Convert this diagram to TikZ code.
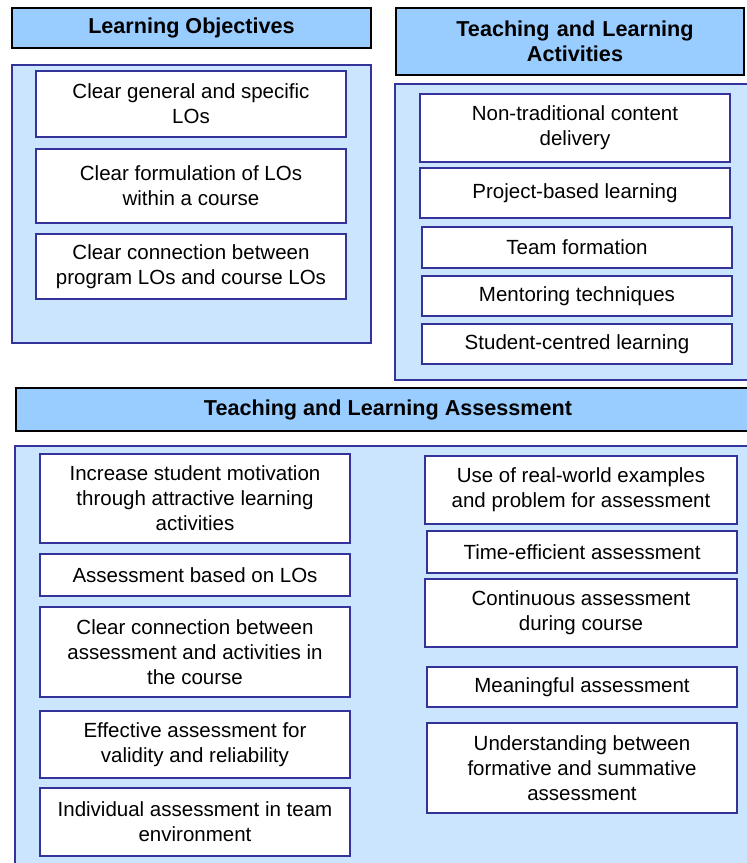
\documentclass[tikz,border=0pt]{standalone}
\usepackage{fontspec}
\setmainfont{Liberation Sans}
\definecolor{hdrfill}{HTML}{99CCFF}
\definecolor{panfill}{HTML}{CCE5FF}
\definecolor{bdr}{HTML}{333399}
\begin{document}
\begin{tikzpicture}[x=1pt,y=-1pt,
  every node/.style={inner sep=0pt, outer sep=0pt, align=center,
    font=\fontsize{20.5}{25}\selectfont},
  hdr/.style={draw=black, line width=1.8pt, fill=hdrfill,
    font=\fontsize{21.6}{25}\selectfont\bfseries},
  panel/.style={draw=bdr, line width=1.4pt, fill=panfill},
  ibox/.style={draw=bdr, line width=1.8pt, fill=white}]
\useasboundingbox (0,0) rectangle (747,863);
\clip (0,0) rectangle (747,863);
% Learning Objectives
\node[hdr, minimum width=359pt, minimum height=40pt] (h1) at (191.5,28) {Learning Objectives};
\node[panel, minimum width=359pt, minimum height=278pt] (p1) at (191.5,204) {};
\node[ibox, minimum width=310pt, minimum height=66pt] (lo1) at (191,104) {Clear general and specific\\LOs};
\node[ibox, minimum width=310pt, minimum height=74pt] (lo2) at (191,186) {Clear formulation of LOs\\within a course};
\node[ibox, minimum width=310pt, minimum height=65pt] (lo3) at (191,266.5) {Clear connection between\\program LOs and course LOs};
% Teaching and Learning Activities
\node[hdr, minimum width=348pt, minimum height=67pt, text width=336pt, inner xsep=0pt] (h2) at (570,41.5) {\hspace*{10pt}Teaching and Learning\\\hspace*{10pt}Activities};
\node[panel, minimum width=357pt, minimum height=296pt] (p2) at (573.5,232) {};
\node[ibox, minimum width=310pt, minimum height=68pt] (a1) at (575,128) {Non-traditional content\\delivery};
\node[ibox, minimum width=310pt, minimum height=50pt] (a2) at (575,193) {Project-based learning};
\node[ibox, minimum width=310pt, minimum height=41pt] (a3) at (577,247.5) {Team formation};
\node[ibox, minimum width=310pt, minimum height=40pt] (a4) at (577,296) {Mentoring techniques};
\node[ibox, minimum width=310pt, minimum height=40pt] (a5) at (577,344) {Student-centred learning};
% Teaching and Learning Assessment
\node[hdr, minimum width=744pt, minimum height=43pt] (h3) at (388,409.5) {Teaching and Learning Assessment};
\node[panel, minimum width=745pt, minimum height=434pt] (p3) at (387.5,663) {};
\node[ibox, minimum width=310pt, minimum height=89pt] (b1) at (195,498.5) {Increase student motivation\\through attractive learning\\activities};
\node[ibox, minimum width=310pt, minimum height=42pt] (b2) at (195,575) {Assessment based on LOs};
\node[ibox, minimum width=310pt, minimum height=90pt] (b3) at (195,652) {Clear connection between\\assessment and activities in\\the course};
\node[ibox, minimum width=310pt, minimum height=67pt] (b4) at (195,744.5) {Effective assessment for\\validity and reliability};
\node[ibox, minimum width=310pt, minimum height=68pt] (b5) at (195,822) {Individual assessment in team\\environment};
\node[ibox, minimum width=312pt, minimum height=68pt] (r1) at (581,490) {Use of real-world examples\\and problem for assessment};
\node[ibox, minimum width=310pt, minimum height=42pt] (r2) at (582,552) {Time-efficient assessment};
\node[ibox, minimum width=312pt, minimum height=68pt] (r3) at (581,613) {Continuous assessment\\during course};
\node[ibox, minimum width=310pt, minimum height=40pt] (r4) at (582,687) {Meaningful assessment};
\node[ibox, minimum width=310pt, minimum height=90pt] (r5) at (582,768) {Understanding between\\formative and summative\\assessment};
\end{tikzpicture}
\end{document}
